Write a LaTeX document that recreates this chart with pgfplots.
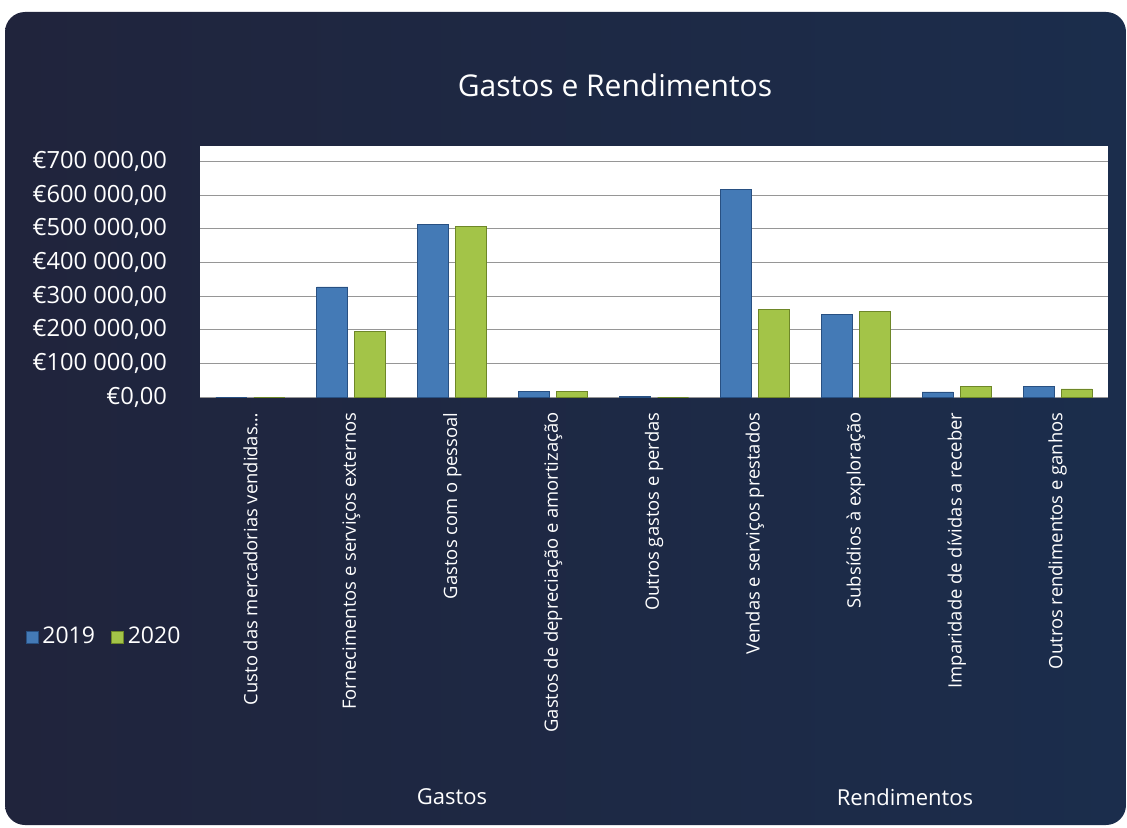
\documentclass[border=0pt]{standalone}
\usepackage{pgfplots}
\pgfplotsset{compat=1.18}
\usepackage{fontspec}
\setmainfont{Open Sans}
\definecolor{bgL}{RGB}{32,36,60}
\definecolor{bgR}{RGB}{27,45,76}
\definecolor{bluF}{RGB}{68,122,182}
\definecolor{bluE}{RGB}{40,80,130}
\definecolor{grnF}{RGB}{163,196,72}
\definecolor{grnE}{RGB}{110,135,40}
\definecolor{gridc}{RGB}{150,150,150}
\newcommand{\pad}{\hspace*{13pt}}

\begin{document}
\begin{tikzpicture}[x=1pt,y=1pt]
\useasboundingbox (0,0) rectangle (563.5,413.5);
\fill[white] (0,0) rectangle (563.5,413.5);
\shade[left color=bgL, right color=bgR, rounded corners=10pt] (2.5,1) rectangle (563,407.5);
\node[text=white, font=\fontsize{15}{18}\selectfont] at (307.5,371) {Gastos e Rendimentos};
\begin{axis}[
  at={(100pt,215pt)}, anchor=south west,
  scale only axis, width=454pt, height=125.5pt,
  xmin=-0.5, xmax=8.5, ymin=0, ymax=746000,
  axis background/.style={fill=white},
  axis line style={draw=none},
  ybar=3.5pt, bar width=15.5pt,
  xtick={0,1,2,3,4,5,6,7,8}, major x tick style={draw=none},
  xticklabels={{Custo das mercadorias vendidas\ldots}, {Fornecimentos e serviços externos}, {Gastos com o pessoal}, {Gastos de depreciação e amortização}, {Outros gastos e perdas}, {Vendas e serviços prestados}, {Subsídios à exploração}, {Imparidade de dívidas a receber}, {Outros rendimentos e ganhos}},
  xticklabel style={rotate=90, anchor=east, text=white, font=\fontsize{9.2}{11}\selectfont},
  scaled y ticks=false,
  ytick={0,100000,200000,300000,400000,500000,600000,700000},
  yticklabels={{€0,00\pad},{€100 000,00\pad},{€200 000,00\pad},{€300 000,00\pad},{€400 000,00\pad},{€500 000,00\pad},{€600 000,00\pad},{€700 000,00\pad}},
  yticklabel style={text=white, font=\fontsize{11.85}{14}\selectfont},
  major y tick style={draw=none},
  ymajorgrids, grid style={gridc, line width=0.5pt},
  legend style={at={(rel axis cs:-0.1046,-0.956)}, anchor=center, draw=none, fill=none, text=white,
    font=\fontsize{11.5}{13}\selectfont, legend columns=2,
    /tikz/every even column/.append style={column sep=6pt}},
  legend image code/.code={\fill[#1] (0pt,-3pt) rectangle (6pt,3pt);},
  clip=false,
]
\addplot[draw=bluE, fill=bluF] coordinates
 {(0,0) (1,327000) (2,514000) (3,17000) (4,1500) (5,618000) (6,245000) (7,15000) (8,32000)};
\addlegendentry{2019}
\addplot[draw=grnE, fill=grnF] coordinates
 {(0,0) (1,195000) (2,506000) (3,16000) (4,0) (5,260000) (6,253000) (7,32000) (8,24000)};
\addlegendentry{2020}
\end{axis}
\node[text=white, font=\fontsize{11}{13}\selectfont] at (226,15) {Gastos};
\node[text=white, font=\fontsize{11}{13}\selectfont] at (452.5,15) {Rendimentos};
\end{tikzpicture}
\end{document}
